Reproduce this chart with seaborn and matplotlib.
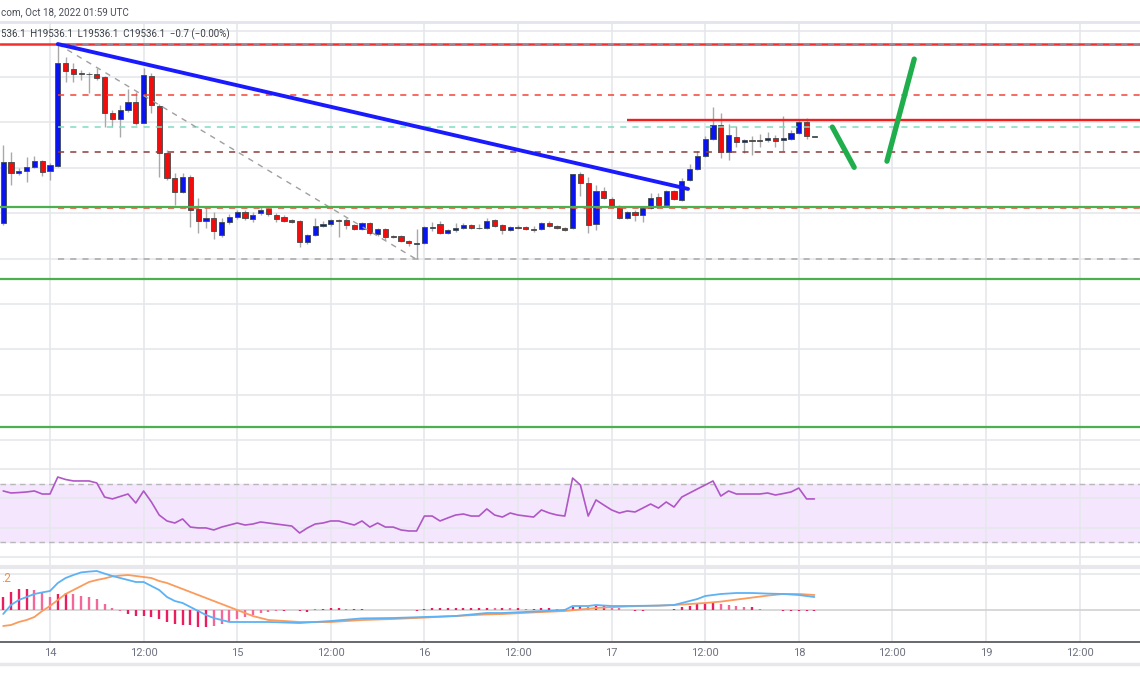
import matplotlib
matplotlib.use("Agg")
import matplotlib.pyplot as plt
import seaborn as sns

# hourly BTC/USD candles, hour 0 = Oct 14 00:00 UTC
hours = list(range(-6, 99))
opens = [19155, 19423, 19375, 19384, 19401, 19428, 19384, 19406, 19859, 19833,
         19815, 19811, 19811, 19797, 19639, 19613, 19652, 19687, 19595, 19802,
         19670, 19463, 19353, 19291, 19357, 19217, 19164, 19177, 19102, 19159,
         19181, 19203, 19173, 19199, 19217, 19190, 19181, 19168, 19164, 19071,
         19102, 19142, 19151, 19168, 19168, 19146, 19129, 19155, 19107, 19129,
         19098, 19098, 19076, 19064, 19067, 19137, 19151, 19111, 19124, 19133,
         19146, 19133, 19133, 19168, 19146, 19124, 19137, 19137, 19131, 19129,
         19155, 19142, 19133, 19133, 19370, 19331, 19151, 19296, 19260, 19230,
         19177, 19203, 19190, 19221, 19269, 19234, 19296, 19256, 19344, 19392,
         19450, 19525, 19586, 19467, 19533, 19511, 19522, 19520, 19520, 19529,
         19520, 19525, 19551, 19600, 19536.1]
highs = [19498, 19467, 19397, 19445, 19450, 19432, 19419, 19943, 19885, 19859,
         19828, 19819, 19837, 19802, 19652, 19674, 19744, 19731, 19837, 19815,
         19678, 19476, 19375, 19375, 19366, 19265, 19221, 19203, 19177, 19195,
         19212, 19212, 19203, 19225, 19230, 19199, 19190, 19173, 19168, 19107,
         19177, 19164, 19173, 19173, 19177, 19151, 19159, 19159, 19133, 19133,
         19102, 19102, 19080, 19129, 19142, 19159, 19164, 19129, 19155, 19155,
         19151, 19151, 19177, 19173, 19151, 19142, 19146, 19142, 19142, 19159,
         19164, 19146, 19137, 19372, 19379, 19357, 19322, 19313, 19269, 19234,
         19208, 19212, 19230, 19287, 19287, 19300, 19300, 19353, 19414, 19472,
         19538, 19665, 19639, 19591, 19582, 19525, 19538, 19546, 19555, 19542,
         19626, 19564, 19608, 19617, 19536.1]
lows = [19146, 19322, 19366, 19335, 19397, 19362, 19344, 19401, 19775, 19775,
        19784, 19727, 19784, 19577, 19577, 19533, 19643, 19586, 19595, 19639,
        19357, 19344, 19234, 19287, 19137, 19111, 19133, 19085, 19093, 19151,
        19173, 19168, 19159, 19190, 19186, 19159, 19159, 19155, 19049, 19062,
        19098, 19137, 19142, 19093, 19129, 19124, 19124, 19102, 19098, 19080,
        19089, 19071, 19054, 18996, 19062, 19120, 19107, 19107, 19115, 19129,
        19129, 19129, 19129, 19137, 19107, 19120, 19129, 19124, 19115, 19124,
        19137, 19129, 19120, 19129, 19274, 19111, 19124, 19260, 19225, 19173,
        19173, 19164, 19159, 19217, 19230, 19230, 19256, 19252, 19340, 19388,
        19445, 19520, 19441, 19432, 19489, 19463, 19454, 19489, 19511, 19489,
        19472, 19520, 19546, 19525, 19536.1]
closes = [19423, 19375, 19384, 19401, 19428, 19379, 19410, 19859, 19824, 19811,
          19811, 19812, 19793, 19639, 19613, 19652, 19687, 19595, 19806, 19674,
          19463, 19353, 19291, 19357, 19212, 19164, 19177, 19120, 19159, 19181,
          19203, 19177, 19190, 19212, 19195, 19173, 19164, 19159, 19071, 19102,
          19142, 19151, 19168, 19164, 19146, 19129, 19155, 19111, 19129, 19093,
          19093, 19076, 19067, 19066, 19137, 19139, 19111, 19124, 19133, 19146,
          19133, 19135, 19164, 19142, 19124, 19137, 19133, 19129, 19127, 19155,
          19142, 19133, 19127, 19370, 19331, 19146, 19296, 19265, 19230, 19177,
          19203, 19190, 19221, 19265, 19234, 19296, 19260, 19340, 19392, 19450,
          19525, 19586, 19467, 19542, 19511, 19520, 19518, 19516, 19529, 19516,
          19529, 19551, 19600, 19536.8, 19536.1]

rsi = [65.2, 63.8, 64.1, 64.5, 65.2, 63.1, 63.1, 74.8, 73.1, 72.1,
       72.1, 72.1, 70.7, 61.0, 59.7, 61.4, 63.1, 56.9, 65.2, 57.6,
       48.6, 44.5, 43.1, 45.9, 40.3, 39.7, 39.7, 38.3, 40.3, 41.7,
       43.1, 41.7, 42.4, 43.8, 43.1, 42.4, 41.7, 41.0, 36.2, 39.7,
       42.4, 43.1, 44.5, 44.5, 43.1, 41.7, 44.5, 40.3, 43.1, 40.3,
       40.3, 38.3, 37.6, 37.6, 47.9, 47.9, 44.5, 46.6, 48.6, 49.3,
       47.9, 47.9, 52.8, 48.6, 47.2, 50.0, 48.6, 47.9, 47.2, 52.1,
       50.0, 48.6, 47.9, 74.1, 69.3, 47.9, 59.0, 55.5, 52.1, 50.0,
       51.4, 50.7, 53.4, 56.2, 53.4, 57.6, 54.1, 61.0, 63.8, 66.6,
       69.3, 72.1, 61.7, 65.2, 63.1, 63.1, 63.1, 63.1, 63.8, 62.4,
       63.4, 64.5, 67.2, 59.7, 59.7]

macd_hours = [-6, -5, -4, -3, -2, -1, 0, 1, 2, 3, 4, 5, 6, 7, 8, 9, 10, 11, 12,
              13, 14, 15, 16, 17, 18, 19, 20, 21, 22, 23, 24, 28, 32, 36, 40,
              44, 48, 52, 56, 58, 62, 66, 67, 68, 69, 70, 72, 74, 78, 80, 82,
              83, 84, 85, 86, 88, 90, 92, 94, 96, 98]
macd_line = [-10, 12.5, 25, 32.5, 40, 44, 47.5, 67.5, 80, 87.5, 94, 96, 97.5,
             91, 85, 80, 75, 70, 70, 60, 50, 32.5, 22.5, 17.5, 7.5, -2.5,
             -12.5, -20, -25, -30, -30, -30, -32.5, -27.5, -21, -20, -17.5,
             -15, -7.5, -7.5, -4, 0, 10, 10, 10, 12.5, 10, 10, 11, 12.5, 22.5,
             27.5, 35, 37.5, 40, 42.5, 42.5, 41, 40, 37.5, 32.5]
signal_hours = [-6, -5, -4, -3, -2, -1, 0, 1, 2, 3, 4, 5, 6, 7, 8, 9, 10, 11,
                12, 13, 14, 15, 16, 17, 18, 19, 20, 21, 22, 23, 24, 25, 26, 27,
                28, 30, 32, 36, 40, 44, 48, 52, 56, 58, 62, 66, 70, 74, 78, 80,
                84, 86, 88, 90, 92, 94, 96, 98]
signal_line = [-40, -37.5, -30, -25, -17.5, -2.5, 10, 25, 40, 50, 60, 70, 75,
               79, 84, 86, 87.5, 85, 82.5, 80, 72.5, 67.5, 60, 52.5, 45, 37.5,
               30, 22.5, 15, 7.5, 0, -7.5, -15, -20, -25, -27.5, -30, -30,
               -25, -22.5, -19, -15, -11, -10, -6, -2.5, 5, 9, 11, 12.5, 17.5,
               21, 26, 31, 36, 40, 40, 37.5]
macd_hist = [32.5, 45, 52.5, 52.5, 50, 42.5, 32.5, 40, 42.5, 40,
             35, 32.5, 27.5, 15, 5, -2.5, -10, -15, -15, -17.5,
             -22.5, -30, -35, -37.5, -37.5, -42.5, -42.5, -40, -35, -30,
             -22.5, -17.5, -12.5, -7.5, -5, -2.5, -2.5, 1, -2.5, -4,
             2.5, 2.5, 4, 4, 2.5, 2.5, 2.5, 1, 1, 1,
             1, -1, -1, -2.5, 2.5, 4, 4, 4, 4, 5,
             5, 5, 6, 5, 5, 4, 4, 2.5, 2.5, 4,
             4, 2.5, 2.5, 7.5, 10, 7.5, 10, 10, 7.5, 5,
             1, -2.5, -2.5, -1, -1, -1, 2.5, 7.5, 10, 15,
             17.5, 17.5, 15, 12.5, 10, 7.5, 7.5, 2.5, 1, -1,
             -2.5, -2.5, -2.5, -2.5, -2.5]

tick_hours = [0, 12, 24, 36, 48, 60, 72, 84, 96, 108, 120, 132]
tick_labels = ["14", "12:00", "15", "12:00", "16", "12:00",
               "17", "12:00", "18", "12:00", "19", "12:00"]
price_gridlines = [18200, 18400, 18600, 18800, 19000, 19200, 19400, 19600, 19800, 20000]

# drawings on the chart
top_high = 19943
fib_levels = [19943, 19719, 19578, 19468, 19221, 18996]
fib_colors = ["#8a9bb5", "#f44336", "#7fdcc0", "#8b3a3a", "#f44336", "#a8a8a8"]
support_levels = [19225, 18912, 18260]
resistance_level = 19609
resistance_start = 74
trend_hours = [1, 81.8]
trend_prices = [19943, 19306]
fib_diag_hours = [1, 47]
fib_diag_prices = [19943, 18996]
green_down_hours = [100.3, 103.1]
green_down_prices = [19578, 19401]
green_up_hours = [107.3, 110.8]
green_up_prices = [19428, 19877]

sns.set_theme(style="white")
plt.rcParams["font.family"] = ["Roboto", "DejaVu Sans"]

W, H = 1140, 694
fig = plt.figure(figsize=(W / 100, H / 100), dpi=100)
fig.patch.set_facecolor("white")


def px_axes(top, bottom):
    return fig.add_axes([0, 1 - bottom / H, 1, (bottom - top) / H])


ax = px_axes(22, 460)
ax_rsi = px_axes(460, 567)
ax_macd = px_axes(567, 642)

xlim = (-50 / 7.8, 1090 / 7.8)
grid_color = "#e6e7eb"
for a in (ax, ax_rsi, ax_macd):
    a.set_xlim(*xlim)
    a.set_xticks(tick_hours)
    a.grid(True, axis="x", color=grid_color, lw=1.2)
    a.set_axisbelow(True)
    a.tick_params(length=0, labelleft=False, labelbottom=False)
    for s in a.spines.values():
        s.set_visible(False)

# ---- main price panel ----
ax.set_ylim(18114, 20040)
ax.set_yticks(price_gridlines)
ax.grid(True, axis="y", color=grid_color, lw=1.2)

up_c, down_c = "#0a14f0", "#f20c0c"
body_bottom, body_height, body_colors = [], [], []
for o, c in zip(opens, closes):
    lo, hi = min(o, c), max(o, c)
    if hi - lo < 4:
        mid = (hi + lo) / 2
        lo, hi = mid - 2, mid + 2
    body_bottom.append(lo)
    body_height.append(hi - lo)
    body_colors.append(up_c if c > o else (down_c if c < o else "#5a6a6a"))

ax.vlines(hours, lows, highs, color="#a9a9a9", lw=1, zorder=2)
ax.bar(hours, body_height, bottom=body_bottom, width=0.68, color=body_colors,
       edgecolor="#3e4c4c", linewidth=0.6, zorder=3)

# fib retracement levels
for lvl, col in zip(fib_levels, fib_colors):
    ax.hlines(lvl, fib_diag_hours[0], xlim[1], colors=col, lw=1.1,
              linestyles=(0, (4, 4)), zorder=4)
sns.lineplot(x=fib_diag_hours, y=fib_diag_prices, ax=ax, color="#a0a0a0",
             lw=1, zorder=4).lines[-1].set_linestyle((0, (4, 4)))

ax.axhline(top_high, color="#f23030", lw=1.8, zorder=3.5)
for lvl in support_levels:
    ax.axhline(lvl, color="#4caf50", lw=1.6, zorder=5)
ax.hlines(resistance_level, resistance_start, xlim[1], colors="#f21d1d", lw=1.7, zorder=5)

sns.lineplot(x=trend_hours, y=trend_prices, ax=ax, color="#1a1aff", lw=2.8, zorder=6)
sns.lineplot(x=green_down_hours, y=green_down_prices, ax=ax, color="#1fae4b",
             lw=3.8, zorder=6, solid_capstyle="round")
sns.lineplot(x=green_up_hours, y=green_up_prices, ax=ax, color="#1fae4b",
             lw=3.8, zorder=6, solid_capstyle="round")
ax.set_xlim(*xlim)
ax.set_ylim(18114, 20040)
ax.set_xlabel("")
ax.set_ylabel("")

# ---- RSI panel ----
ax_rsi.set_ylim(12.76, 86.55)
ax_rsi.set_yticks([20, 40, 60, 80])
ax_rsi.grid(True, axis="y", color=grid_color, lw=1.2)
ax_rsi.axhspan(30, 70, color="#f3e6fd", zorder=0)
for lvl in (30, 70):
    ax_rsi.axhline(lvl, color="#b8b8b8", lw=1, linestyle=(0, (4, 3)), zorder=1)
sns.lineplot(x=hours, y=rsi, ax=ax_rsi, color="#b056c6", lw=1.2, zorder=3)
ax_rsi.set_xlim(*xlim)
ax_rsi.set_xlabel("")
ax_rsi.set_ylabel("")

# ---- MACD panel ----
ax_macd.set_ylim(-80, 107.5)
ax_macd.set_yticks([90])
ax_macd.grid(True, axis="y", color=grid_color, lw=1.2)
ax_macd.axhline(0, color="#d2d2d2", lw=1.2, zorder=1)
hist_colors = []
for i, v in enumerate(macd_hist):
    prev = macd_hist[i - 1] if i else v
    hist_colors.append("#ec1c60" if abs(v) >= abs(prev) else "#f4679a")
ax_macd.vlines(hours, 0, macd_hist, colors=hist_colors, lw=1.7, zorder=2)
sns.lineplot(x=signal_hours, y=signal_line, ax=ax_macd, color="#fb9b5c", lw=1.3, zorder=3)
sns.lineplot(x=macd_hours, y=macd_line, ax=ax_macd, color="#5cb2f5", lw=1.3, zorder=4)
ax_macd.set_xlim(*xlim)
ax_macd.set_xlabel("")
ax_macd.set_ylabel("")
ax_macd.spines["bottom"].set_visible(True)
ax_macd.spines["bottom"].set_color("#66686e")
ax_macd.spines["bottom"].set_linewidth(1.4)
ax_macd.tick_params(axis="x", labelbottom=True, labelsize=8, labelcolor="#6f7280", pad=4)
ax_macd.set_xticklabels(tick_labels)
ax_macd.text(0.001, 0.84, ".2", transform=ax_macd.transAxes, color="#fb8c3c",
             fontsize=8.5, va="center", ha="left")

# ---- header / separators ----
def hline_px(y, color, lw):
    fig.add_artist(plt.Line2D([0, 1], [1 - y / H, 1 - y / H], color=color, lw=lw,
                              transform=fig.transFigure))


hline_px(22, "#e3e5ec", 2)
hline_px(567, "#e8e8ec", 3)
hline_px(664, "#e8e8ec", 2.5)

fig.text(1 / W, 1 - 12 / H, "com, Oct 18, 2022 01:59 UTC", ha="left", va="center",
         fontsize=7.1, color="#4a4d57")
fig.text(1 / W, 1 - 34 / H, "536.1  H19536.1  L19536.1  C19536.1  \u22120.7 (\u22120.00%)",
         ha="left", va="center", fontsize=7.0, color="#3a3d45")

fig.savefig("out.png", dpi=100, facecolor="white")
